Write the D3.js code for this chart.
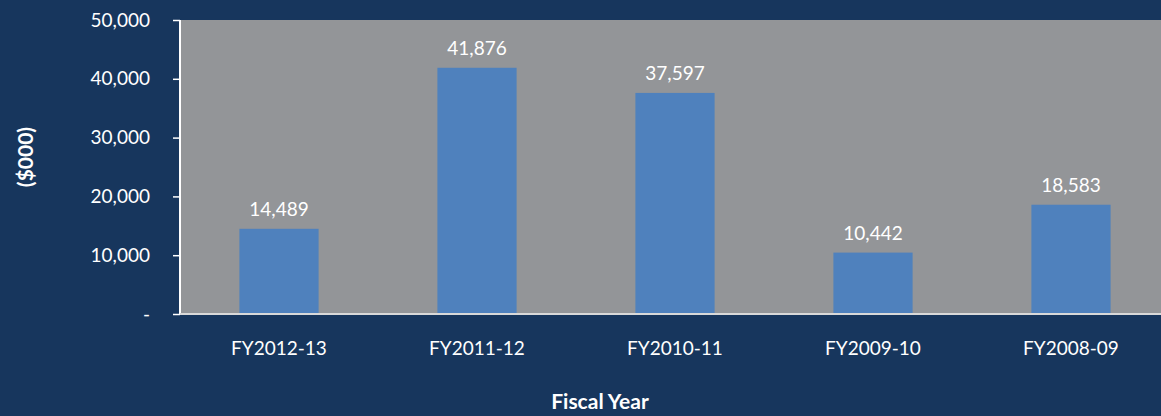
<!DOCTYPE html>
<html lang="en">
<head>
    <meta charset="UTF-8">
    <title>Fiscal Year</title>
    <script src="https://cdn.jsdelivr.net/npm/d3@7"></script>
    <style>
        body { margin: 0; background: #17365d; }
        text { font-family: Lato, "Open Sans", sans-serif; }
    </style>
</head>
<body>
<svg id="chart" width="1161" height="416"></svg>

<script>
    /* global d3*/

    var years = ["FY2012-13", "FY2011-12", "FY2010-11", "FY2009-10", "FY2008-09"];
    var amounts = [14489, 41876, 37597, 10442, 18583];
    var yTicks = [0, 10000, 20000, 30000, 40000, 50000];

    var svg = d3.select("#chart"),
        plotLeft = 180, plotRight = 1170, plotTop = 20, plotBottom = 314;

    var x = d3.scaleBand().domain(years).range([plotLeft, plotRight]).paddingInner(0.6).paddingOuter(0.3),
        y = d3.scaleLinear().domain([0, 50000]).range([plotBottom, plotTop]);

    svg.append("rect")
        .attr("width", 1161).attr("height", 416)
        .attr("fill", "#17365d");

    // plot area
    svg.append("rect")
        .attr("x", plotLeft).attr("y", plotTop)
        .attr("width", plotRight - plotLeft).attr("height", plotBottom - plotTop)
        .attr("fill", "#939598");

    svg.selectAll(".bar")
        .data(amounts)
        .enter().append("rect")
        .attr("class", "bar")
        .attr("x", function (d, i) { return x(years[i]); })
        .attr("y", function (d) { return y(d); })
        .attr("width", x.bandwidth())
        .attr("height", function (d) { return plotBottom - y(d); })
        .attr("fill", "#4f81bd");

    svg.selectAll(".val")
        .data(amounts)
        .enter().append("text")
        .attr("class", "val")
        .attr("x", function (d, i) { return x(years[i]) + x.bandwidth() / 2; })
        .attr("y", function (d) { return y(d) - 13; })
        .attr("text-anchor", "middle")
        .attr("fill", "#ffffff")
        .style("font-size", "19px")
        .text(function (d) { return d3.format(",")(d); });

    // y axis
    var yAxis = svg.append("g")
        .attr("transform", "translate(" + plotLeft + ",0)")
        .call(d3.axisLeft(y).tickValues(yTicks).tickSize(7).tickPadding(23)
            .tickFormat(function (d) { return d === 0 ? "-" : d3.format(",")(d); }));
    yAxis.select(".domain").attr("stroke", "#ffffff").attr("stroke-width", 2).attr("d", "M0," + plotTop + "V" + plotBottom);
    yAxis.selectAll(".tick line").attr("stroke", "#ffffff").attr("stroke-width", 1.5);
    yAxis.selectAll(".tick text").attr("fill", "#ffffff").style("font-size", "19px");

    // x axis
    var xAxis = svg.append("g")
        .attr("transform", "translate(0," + plotBottom + ")")
        .call(d3.axisBottom(x).tickSize(0).tickPadding(28));
    xAxis.select(".domain").attr("stroke", "#d9d9d9").attr("stroke-width", 2).attr("d", "M" + plotLeft + ",0H1161");
    xAxis.selectAll(".tick text").attr("fill", "#ffffff").style("font-size", "19px");

    svg.append("text")
        .attr("x", 600).attr("y", 409)
        .attr("text-anchor", "middle")
        .attr("fill", "#ffffff")
        .style("font-size", "21px").style("font-weight", "bold")
        .text("Fiscal Year");

    svg.append("text")
        .attr("transform", "translate(33,157) rotate(-90)")
        .attr("text-anchor", "middle")
        .attr("fill", "#ffffff")
        .style("font-size", "21px").style("font-weight", "bold")
        .text("($000)");
</script>
</body>
</html>
